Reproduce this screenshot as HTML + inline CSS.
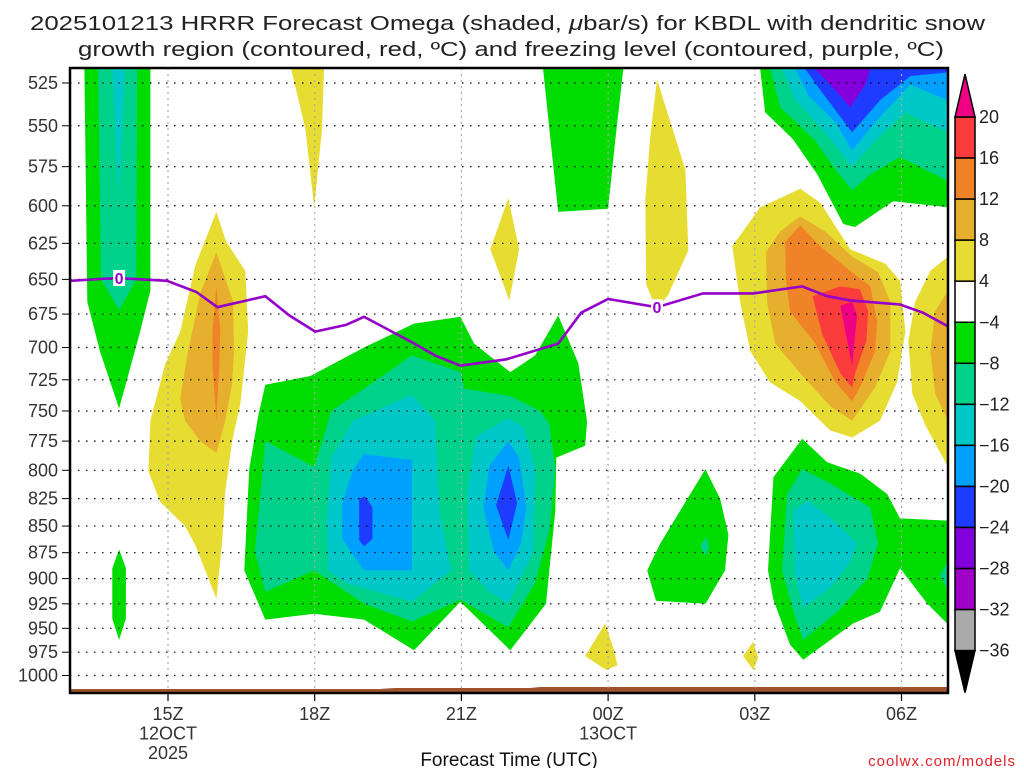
<!DOCTYPE html>
<html><head><meta charset="utf-8"><style>
html,body{margin:0;padding:0;background:#fff;}
svg{display:block;font-family:"Liberation Sans","DejaVu Sans",sans-serif;}
</style></head><body>
<svg id="chart" width="1024" height="768" viewBox="0 0 1024 768" xmlns="http://www.w3.org/2000/svg">
<defs><clipPath id="plotclip"><rect x="70" y="68" width="878" height="625"/></clipPath></defs>
<text x="30" y="30" font-size="20" fill="#222" textLength="955" lengthAdjust="spacingAndGlyphs">2025101213 HRRR Forecast Omega (shaded, <tspan font-style="italic">μ</tspan>bar/s) for KBDL with dendritic snow</text>
<text x="78" y="56" font-size="20" fill="#222" textLength="866" lengthAdjust="spacingAndGlyphs">growth region (contoured, red, ºC) and freezing level (contoured, purple, ºC)</text>
<g id="fills" clip-path="url(#plotclip)"></g>
<g id="grid"></g>
<g id="fz" clip-path="url(#plotclip)"></g>
<rect x="70" y="68" width="878" height="625" fill="none" stroke="#000" stroke-width="2.5"/>
<g id="axes"></g>
<g id="cbar"></g>
<text x="509" y="766" font-size="19" text-anchor="middle" fill="#111">Forecast Time (UTC)</text>
<text x="1016" y="766" font-size="15" text-anchor="end" fill="#e0202a" letter-spacing="1">coolwx.com/models</text>
</svg>
<script>
// ---- data ----
const pressureTicks = [525,550,575,600,625,650,675,700,725,750,775,800,825,850,875,900,925,950,975,1000];
const timeTickHours = [15,18,21,24,27,30];
const timeTickLabels = ["15Z","18Z","21Z","00Z","03Z","06Z"];
const dateLabels = {15:["12OCT","2025"],24:["13OCT"]};
const levels = [-36,-32,-28,-24,-20,-16,-12,-8,-4,4,8,12,16,20];
const levelColors = ["#000000","#aaaaaa","#a000c8","#8200dc","#1e3cff","#00a0ff","#00c8c8","#00d28c","#00dc00","#ffffff","#e6dc32","#e6af2d","#f08228","#fa3c3c","#f00082"];
// freezing level (hour, hPa)
const fzHours = [13.0,13.96,14.98,15.58,16.01,16.99,17.48,18.01,18.64,19.01,19.99,20.46,20.98,21.92,22.98,23.45,24.0,25.0,25.94,26.97,27.97,28.48,28.95,29.97,30.44,30.95];
const fzPress = [651,649,651,659,670,662,676,688,683,677,696,706,714,709,697,674,664,670,660,660,655,662,665,668,674,684];
// filled contour regions: [colorIndex, [[hour,hPa],...]]
const regions = [
 [8,[[13.29,517],[14.64,517],[14.64,658],[14.43,688],[14.0,748],[13.61,703],[13.35,666]]],
 [7,[[13.57,517],[14.37,517],[14.35,650],[14.0,672],[13.63,650]]],
 [6,[[13.86,517],[14.12,517],[14.05,560],[14.0,596],[13.93,560]]],
 [8,[[14.0,872],[14.14,890],[14.14,940],[14.0,962],[13.86,940],[13.86,890]]],
 [10,[[15.99,604],[16.19,624],[16.58,644],[16.64,688],[16.48,744],[16.31,775],[16.17,819],[16.11,863],[15.99,920],[15.56,868],[15.35,850],[14.84,828],[14.6,801],[14.64,758],[14.94,713],[15.25,688],[15.56,640]]],
 [11,[[15.99,631],[16.33,666],[16.35,703],[16.31,728],[16.17,758],[15.99,785],[15.66,775],[15.35,758],[15.25,740],[15.41,703],[15.66,660]]],
 [12,[[15.99,655],[16.07,688],[16.05,713],[15.99,758],[15.91,713],[15.91,688]]],
 [10,[[17.52,517],[18.19,517],[18.15,552],[17.99,601],[17.81,552]]],
 [10,[[21.96,595],[22.18,629],[21.98,665],[21.59,629]]],
 [8,[[22.67,517],[24.31,517],[24.15,558],[24.0,602],[22.98,604],[22.82,558]]],
 [10,[[25.0,523],[25.58,577],[25.64,630],[25.23,661],[25.0,672],[24.78,654],[24.76,596],[24.86,557]]],
 [8,[[27.11,517],[27.21,542],[27.78,558],[28.28,580],[28.81,612],[29.05,614],[29.83,597],[30.95,601],[30.95,517]]],
 [7,[[27.31,517],[27.52,539],[28.24,559],[28.65,577],[28.99,590],[29.36,580],[29.97,569],[30.95,584],[30.95,517]]],
 [6,[[27.56,517],[27.83,535],[28.44,554],[28.99,575],[29.46,559],[30.08,542],[30.95,554],[30.95,517]]],
 [5,[[27.83,517],[28.09,532],[28.65,548],[28.99,565],[29.46,548],[30.18,526],[30.95,535],[30.95,517]]],
 [4,[[28.03,517],[28.34,529],[28.99,554],[29.56,535],[30.18,521],[30.95,519],[30.95,517]]],
 [3,[[28.24,517],[28.54,526],[28.95,539],[29.26,526],[29.36,517]]],
 [10,[[26.54,627],[27.11,601],[27.93,589],[28.34,598],[28.95,629],[29.67,639],[29.97,651],[30.08,688],[29.91,727],[29.56,758],[28.99,772],[28.54,766],[27.93,742],[27.31,727],[26.91,703],[26.7,666]]],
 [11,[[27.23,631],[27.52,617],[27.93,607],[28.44,617],[28.99,634],[29.52,645],[29.77,666],[29.77,703],[29.46,731],[28.99,758],[28.54,746],[27.93,720],[27.42,697],[27.25,666]]],
 [12,[[27.62,624],[27.93,613],[28.34,627],[28.95,644],[29.36,655],[29.5,680],[29.46,703],[29.15,731],[28.99,742],[28.65,727],[28.24,697],[27.72,673],[27.64,651]]],
 [13,[[28.18,662],[28.75,655],[29.15,657],[29.32,673],[29.28,695],[29.05,720],[28.99,731],[28.75,720],[28.38,690]]],
 [14,[[28.75,669],[28.99,666],[29.09,676],[28.99,714],[28.85,688]]],
 [10,[[30.95,634],[30.59,644],[30.28,666],[30.14,695],[30.22,736],[30.49,762],[30.95,797]]],
 [11,[[30.95,658],[30.69,673],[30.59,703],[30.69,736],[30.95,758]]],
 [8,[[16.99,729],[17.91,722],[19.01,700],[20.03,682],[20.98,677],[21.26,697],[22.0,719],[22.51,706],[22.98,676],[23.39,712],[23.57,759],[23.53,779],[22.94,789],[22.92,836],[22.73,925],[22.0,973],[20.98,923],[20.03,973],[19.01,941],[17.99,935],[16.99,941],[16.56,892],[16.66,799],[16.84,755]]],
 [7,[[16.99,775],[17.99,797],[18.34,750],[19.01,732],[19.99,706],[20.98,719],[21.06,732],[22.0,738],[22.61,750],[22.8,761],[22.92,799],[22.8,854],[22.51,904],[21.96,949],[20.98,921],[19.99,943],[19.01,925],[17.99,892],[16.99,913],[16.78,874]]],
 [6,[[18.24,846],[18.34,789],[18.79,758],[19.99,737],[20.46,758],[20.55,836],[20.79,892],[19.99,923],[18.64,904],[18.28,892]]],
 [6,[[21.12,819],[21.3,771],[21.96,756],[22.28,764],[22.51,799],[22.47,874],[21.96,925],[21.57,913],[21.16,892]]],
 [5,[[18.56,829],[18.79,799],[19.01,786],[19.99,791],[19.99,892],[19.01,892],[18.56,862]]],
 [5,[[21.45,833],[21.57,796],[21.96,775],[22.18,789],[22.33,833],[22.22,866],[21.96,892],[21.67,874]]],
 [4,[[18.91,825],[19.03,823],[19.18,833],[19.18,862],[19.01,869],[18.91,863]]],
 [4,[[21.96,796],[22.14,829],[21.96,863],[21.71,831]]],
 [10,[[23.53,979],[23.94,945],[24.12,973],[24.19,989],[23.96,994]]],
 [10,[[26.76,979],[26.97,964],[27.07,981],[26.97,994]]],
 [8,[[24.8,892],[25.07,866],[25.99,799],[26.29,825],[26.46,858],[26.39,892],[25.99,925],[24.98,922]]],
 [7,[[25.99,860],[26.07,869],[25.99,878],[25.89,869]]],
 [8,[[27.27,892],[27.38,806],[27.97,773],[28.48,793],[29.16,803],[29.71,821],[29.97,843],[30.95,845],[30.95,946],[30.53,925],[29.97,890],[29.56,933],[29.01,945],[27.99,983],[27.72,967],[27.38,921]]],
 [7,[[27.56,892],[27.66,821],[27.97,799],[28.48,810],[29.36,833],[29.52,866],[29.3,900],[28.69,933],[27.99,962],[27.79,933]]],
 [6,[[27.79,836],[28.07,827],[28.48,840],[29.09,866],[28.95,884],[28.54,909],[27.99,929],[27.83,897]]],
 [7,[[30.79,897],[30.95,883],[30.95,912]]]
];
// ---- axis functions ----
const X = h => 70.2 + (h - 13) * 48.9;
const Y = p => 83 + (Math.log(p) - Math.log(525)) * 919.5;
const NS = "http://www.w3.org/2000/svg";
function mk(tag, attrs, parent){const e=document.createElementNS(NS,tag);for(const k in attrs)e.setAttribute(k,attrs[k]);parent.appendChild(e);return e;}
const fills=document.getElementById('fills'), grid=document.getElementById('grid'), axes=document.getElementById('axes'), cbar=document.getElementById('cbar'), fz=document.getElementById('fz');
const gb = mk('path',{d:'M70,689 L380,689 L395,688 L530,688 L540,687 L948,687 L948,693 L70,693 Z',fill:'#a0522d'},fills);


regions.forEach((r,i)=>{
  const pts=r[1].map(q=>X(q[0]).toFixed(1)+','+Y(q[1]).toFixed(1)).join(' ');
  const el=mk('polygon',{points:pts,fill:levelColors[r[0]]},fills);
  
  
});
pressureTicks.forEach(p=>{
  const y=Y(p);
  const gl=mk('line',{x1:70,x2:948,y1:y,y2:y,stroke:'#000','stroke-width':1.2,'stroke-dasharray':'1.5,6.5'},grid);
  
  
  mk('line',{x1:62,x2:70,y1:y,y2:y,stroke:'#000','stroke-width':1},axes);
  const t=mk('text',{x:58,y:y+6,'font-size':18,'text-anchor':'end',fill:'#333'},axes);
  t.textContent=p;
  
  
});
timeTickHours.forEach((h,i)=>{
  const x=X(h);
  const gl=mk('line',{x1:x,x2:x,y1:68,y2:693,stroke:'#aaa','stroke-width':1.2,'stroke-dasharray':'2,4'},grid);
  
  
  mk('line',{x1:x,x2:x,y1:693,y2:701,stroke:'#000','stroke-width':1.2},axes);
  const lines=[timeTickLabels[i]].concat(dateLabels[h]||[]);
  lines.forEach((s,j)=>{
    const t=mk('text',{x:x,y:720+j*19.5,'font-size':18,'text-anchor':'middle',fill:'#333'},axes);
    t.textContent=s;
    
    
  });
});
const fp=mk('polyline',{points:fzHours.map((h,i)=>X(h).toFixed(1)+','+Y(fzPress[i]).toFixed(1)).join(' '),fill:'none',stroke:'#9400c8','stroke-width':2.6},fz);


[[14.0,649],[25.0,670]].forEach(q=>{
  const x=X(q[0]),y=Y(q[1]);
  mk('rect',{x:x-6,y:y-8,width:12,height:16,fill:'#fff'},fz);
  const t=mk('text',{x:x,y:y+6,'font-size':16,'font-weight':'bold','text-anchor':'middle',fill:'#9400c8'},fz);
  t.textContent='0';
  
  
});
const cx=955,cw=20,ctop=117,step=41.05;
const revLevels=levels.slice().reverse();
for(let i=0;i<revLevels.length-1;i++){
  const col=levelColors[levelColors.length-2-i];
  const r=mk('rect',{x:cx,y:ctop+i*step,width:cw,height:step,fill:col,stroke:'#000','stroke-width':1.5},cbar);
  
  
}
const up=mk('polygon',{points:`${cx},${ctop} ${cx+cw},${ctop} ${cx+cw/2},${ctop-43}`,fill:levelColors[14],stroke:'#000','stroke-width':1.5},cbar);


const bot=ctop+(revLevels.length-1)*step;
const dn=mk('polygon',{points:`${cx},${bot} ${cx+cw},${bot} ${cx+cw/2},${bot+42}`,fill:'#000',stroke:'#000','stroke-width':1.5},cbar);


revLevels.forEach((v,i)=>{
  const t=mk('text',{x:cx+cw+4,y:ctop+i*step+6,'font-size':18,fill:'#222'},cbar);
  t.textContent=(v<0?'\u2212':'')+Math.abs(v);
  
  
});
</script>
</body></html>
